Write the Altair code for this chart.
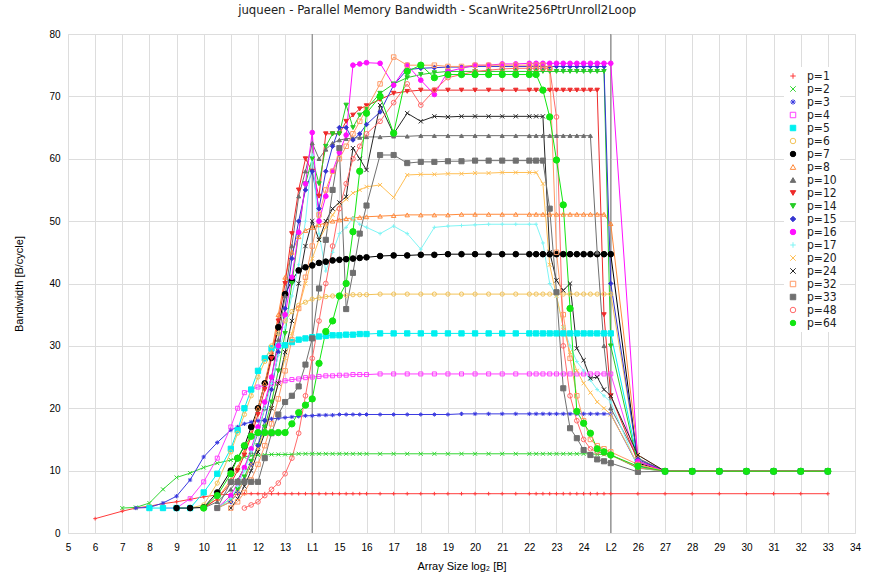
import altair as alt
import pandas as pd

N = None
FONT = "Liberation Sans Narrow, DejaVu Sans Condensed, Liberation Sans, sans-serif"

XA = [6, 7, 7.5, 8, 8.5, 9, 9.5, 10, 10.5, 11]
XB = [11.25, 11.5, 11.75, 12, 12.25, 12.5, 12.75, 13, 13.25, 13.5, 13.75, 14, 14.25, 14.5, 14.75, 15, 15.25, 15.5, 15.75, 16]
XC = [16.5, 17, 17.5, 18, 18.5, 19, 19.5, 20, 20.5, 21, 21.5, 22]
XD = [22.25, 22.5, 22.75, 23, 23.25, 23.5, 23.75, 24, 24.25, 24.5, 24.75, 25]
XE = [26, 27, 28, 29, 30, 31, 32, 33]
X = XA + XB + XC + XD + XE

p1 = ([2.3, 3.5, 4.0, 4.3, 4.7, 5.0, 5.4, 5.8, 6.1, 6.2]
      + [6.2, 6.3, 6.3, 6.3, 6.3, 6.3, 6.3, 6.3, 6.3, 6.3, 6.3, 6.3, 6.3, 6.3, 6.3, 6.3, 6.3, 6.3, 6.3, 6.3]
      + [6.3, 6.3, 6.3, 6.3, 6.3, 6.3, 6.3, 6.3, 6.3, 6.3, 6.3, 6.3]
      + [6.3, 6.3, 6.3, 6.3, 6.3, 6.3, 6.3, 6.3, 6.3, 6.3, 6.3, 6.3]
      + [6.3, 6.3, 6.3, 6.3, 6.3, 6.3, 6.3, 6.3])
p2 = ([N, 4.0, 4.1, 4.8, 7.0, 8.9, 9.6, 10.5, 11.2, 11.7]
      + [12.0, 12.2, 12.4, 12.5, 12.5, 12.6, 12.6, 12.6, 12.6, 12.7, 12.7, 12.7, 12.7, 12.7, 12.7, 12.7, 12.7, 12.7, 12.7, 12.7]
      + [12.7, 12.7, 12.7, 12.7, 12.7, 12.7, 12.7, 12.7, 12.7, 12.7, 12.7, 12.7]
      + [12.7, 12.7, 12.7, 12.7, 12.7, 12.7, 12.7, 12.7, 12.7, 12.6, 12.6, 12.5]
      + [10.4, 9.9, 9.9, 9.9, 9.9, 9.9, 9.9, 9.9])
p3 = ([N, N, 4.0, 4.1, 4.8, 5.9, 8.5, 12.2, 14.5, 16.5]
      + [17.0, 17.5, 17.8, 18.0, 18.1, 18.3, 18.4, 18.5, 18.6, 18.7, 18.8, 18.8, 18.9, 18.9, 18.9, 19.0, 19.0, 19.0, 19.0, 19.0]
      + [19.0, 19.0, 19.0, 19.0, 19.0, 19.0, 19.1, 19.1, 19.1, 19.1, 19.1, 19.1]
      + [19.1, 19.1, 19.1, 19.1, 19.1, 19.1, 19.1, 19.1, 19.1, 19.1, 19.1, 19.1]
      + [10.8, 9.9, 9.9, 9.9, 9.9, 9.9, 9.9, 9.9])
p4 = ([N, N, N, N, 4.0, 4.0, 5.5, 8.2, 12.0, 17.0]
      + [20.0, 22.5, 23.0, 23.4, 23.7, 24.0, 24.2, 24.4, 24.6, 24.7, 24.9, 25.0, 25.1, 25.2, 25.2, 25.3, 25.3, 25.4, 25.4, 25.4]
      + [25.5, 25.5, 25.5, 25.5, 25.5, 25.5, 25.5, 25.5, 25.5, 25.5, 25.5, 25.5]
      + [25.5, 25.5, 25.5, 25.5, 25.5, 25.5, 25.5, 25.5, 25.5, 25.5, 25.5, 25.5]
      + [11.0, 9.9, 9.9, 9.9, 9.9, 9.9, 9.9, 9.9])
p5 = ([N, N, N, 4.0, 4.0, 4.0, 4.0, 6.5, 9.5, 13.5]
      + [16.5, 20.0, 23.0, 26.0, 28.0, 29.6, 30.0, 30.1, 30.6, 31.0, 31.2, 31.4, 31.5, 31.6, 31.7, 31.7, 31.8, 31.8, 31.9, 31.9]
      + [32.0, 32.0, 32.0, 32.0, 32.0, 32.0, 32.0, 32.0, 32.0, 32.0, 32.0, 32.0]
      + [32.0, 32.0, 32.0, 32.0, 32.0, 32.0, 32.0, 32.0, 32.0, 32.0, 32.0, 32.0]
      + [11.5, 9.9, 9.9, 9.9, 9.9, 9.9, 9.9, 9.9])
p6 = ([N, N, N, N, N, N, 4.0, 4.5, 8.0, 13.0]
      + [16.0, 19.0, 22.0, 25.0, 27.5, 30.0, 32.0, 34.0, 35.5, 36.5, 37.0, 37.5, 37.7, 37.9, 38.0, 38.1, 38.1, 38.2, 38.2, 38.2]
      + [38.3, 38.3, 38.3, 38.3, 38.3, 38.3, 38.3, 38.3, 38.3, 38.3, 38.3, 38.3]
      + [38.3, 38.3, 38.3, 38.3, 38.3, 38.3, 38.3, 38.3, 38.3, 38.3, 38.3, 38.3]
      + [11.8, 9.9, 9.9, 9.9, 9.9, 9.9, 9.9, 9.9])
p7 = ([N, N, N, N, N, 4.0, 4.0, 4.1, 6.5, 10.0]
      + [12.0, 13.9, 17.0, 20.0, 24.0, 28.1, 33.0, 38.3, 40.5, 42.1, 42.6, 42.9, 43.3, 43.5, 43.7, 43.8, 43.9, 44.0, 44.1, 44.2]
      + [44.4, 44.5, 44.5, 44.6, 44.6, 44.7, 44.7, 44.7, 44.7, 44.7, 44.7, 44.7]
      + [44.7, 44.7, 44.7, 44.7, 44.7, 44.7, 44.7, 44.7, 44.7, 44.7, 44.7, 44.7]
      + [11.2, 9.9, 9.9, 9.9, 9.9, 9.9, 9.9, 9.9])
p8 = ([N, N, N, N, N, N, N, 4.0, 5.5, 8.5]
      + [10.5, 13.0, 16.0, 20.0, 24.0, 29.0, 35.0, 41.0, 45.0, 47.5, 48.5, 49.0, 49.4, 49.7, 50.0, 50.2, 50.4, 50.5, 50.6, 50.7]
      + [50.8, 50.9, 51.0, 51.0, 51.0, 51.0, 51.1, 51.1, 51.1, 51.1, 51.1, 51.1]
      + [51.1, 51.1, 51.1, 51.1, 51.1, 51.1, 51.1, 51.1, 51.1, 51.1, 51.1, 49.6]
      + [12.5, 9.9, 9.9, 9.9, 9.9, 9.9, 9.9, 9.9])
p10 = ([N, N, N, N, N, N, N, 4.0, 5.0, 7.0]
       + [8.5, 10.5, 13.0, 16.0, 20.0, 25.0, 31.0, 38.0, 46.0, 54.0, 58.0, 62.5, 60.0, 61.5, 62.5, 63.0, 63.2, 63.3, 63.4, 63.5]
       + [63.5, 63.6, 63.6, 63.7, 63.7, 63.7, 63.7, 63.7, 63.7, 63.7, 63.7, 63.7]
       + [63.7, 63.7, 63.7, 63.7, 63.7, 63.7, 63.7, 63.7, 63.7, 45.0, 30.0, 20.0]
       + [12.0, 9.9, 9.9, 9.9, 9.9, 9.9, 9.9, 9.9])
p12 = ([N, N, N, N, N, N, N, 4.0, 5.5, 8.0]
       + [10.0, 12.5, 15.5, 19.0, 23.0, 28.0, 34.0, 40.0, 48.0, 55.0, 60.0, 58.0, 54.0, 64.0, 64.0, 64.0, 66.0, 67.0, 68.0, 68.5]
       + [69.5, 70.5, 70.8, 71.0, 71.0, 71.0, 71.0, 71.0, 71.0, 71.0, 71.0, 71.0]
       + [71.0, 71.0, 71.0, 71.0, 71.0, 71.0, 71.0, 71.0, 71.0, 71.0, 35.0, 22.0]
       + [11.5, 9.9, 9.9, 9.9, 9.9, 9.9, 9.9, 9.9])
p14 = ([N, N, N, N, N, N, N, N, 4.0, 5.5]
       + [7.0, 9.0, 11.5, 14.0, 17.0, 21.0, 26.0, 32.0, 40.0, 48.0, 56.0, 60.0, 56.0, 62.0, 64.0, 64.0, 68.6, 65.0, 67.0, 68.0]
       + [70.5, 72.0, 73.0, 73.5, 73.8, 74.0, 74.0, 74.0, 74.0, 74.0, 74.0, 74.0]
       + [74.0, 74.0, 74.0, 74.0, 74.0, 74.0, 74.0, 74.0, 74.0, 74.0, 74.0, 30.0]
       + [11.0, 9.9, 9.9, 9.9, 9.9, 9.9, 9.9, 9.9])
p15 = ([N, N, N, N, N, N, N, N, 4.0, 5.0]
       + [6.5, 8.5, 11.0, 14.0, 18.0, 23.0, 29.0, 36.0, 44.0, 50.0, 55.0, 58.0, 52.0, 58.0, 62.0, 65.0, 65.0, 63.0, 64.0, 65.5]
       + [67.5, 71.8, 74.3, 74.5, 74.6, 74.7, 74.7, 74.8, 74.8, 74.8, 74.8, 74.8]
       + [74.8, 74.8, 74.8, 74.8, 74.8, 74.8, 74.8, 74.8, 74.8, 74.8, 74.8, 40.0]
       + [11.8, 9.9, 9.9, 9.9, 9.9, 9.9, 9.9, 9.9])
p16 = ([N, N, N, N, N, N, N, N, 4.0, 6.0]
       + [8.0, 10.5, 13.5, 17.0, 21.0, 25.0, 30.0, 35.0, 41.0, 48.2, 56.0, 64.2, 50.0, 54.0, 58.0, 61.0, 63.8, 75.0, 75.2, 75.4]
       + [75.3, 71.8, 75.0, 72.6, 70.3, 74.0, 74.5, 75.0, 75.0, 75.2, 75.2, 75.3]
       + [75.3, 75.3, 75.3, 75.3, 75.3, 75.3, 75.3, 75.3, 75.3, 75.3, 75.3, 75.3]
       + [11.5, 9.9, 9.9, 9.9, 9.9, 9.9, 9.9, 9.9])
p17 = ([N, N, N, N, N, N, N, N, 4.0, 5.5]
       + [7.5, 10.0, 13.0, 16.5, 20.0, 24.0, 28.5, 33.0, 38.0, 43.0, 50.0, 60.6, 48.0, 42.0, 45.0, 48.0, 49.0, 50.5, 49.5, 49.0]
       + [48.0, 49.2, 48.0, 45.5, 49.0, 49.2, 49.3, 49.4, 49.5, 49.5, 49.5, 49.5]
       + [49.5, 46.5, 40.0, 38.0, 33.0, 30.0, 27.5, 26.0, 24.5, 23.0, 22.0, 21.0]
       + [10.5, 9.9, 9.9, 9.9, 9.9, 9.9, 9.9, 9.9])
p20 = ([N, N, N, N, N, N, N, N, 4.0, 5.0]
       + [6.5, 8.5, 11.0, 13.5, 16.5, 20.0, 24.0, 28.0, 32.0, 36.0, 40.0, 44.0, 47.0, 49.0, 51.0, 52.5, 53.5, 54.5, 55.0, 55.5]
       + [55.8, 53.8, 57.4, 57.5, 57.5, 57.6, 57.6, 57.7, 57.7, 57.8, 57.8, 57.8]
       + [57.8, 56.0, 43.0, 38.0, 33.0, 29.0, 26.0, 24.0, 22.5, 21.0, 20.0, 19.0]
       + [11.0, 9.9, 9.9, 9.9, 9.9, 9.9, 9.9, 9.9])
p24 = ([N, N, N, N, N, N, N, N, N, 4.0]
       + [5.5, 7.5, 10.0, 13.0, 16.0, 20.0, 24.0, 29.0, 34.0, 40.0, 46.0, 50.0, 47.0, 50.0, 52.0, 53.0, 53.9, 61.7, 60.0, 58.2]
       + [68.6, 64.0, 67.3, 66.0, 66.8, 66.7, 66.8, 66.8, 66.8, 66.8, 66.8, 66.8]
       + [66.8, 66.8, 45.0, 40.5, 38.9, 40.0, 29.6, 27.7, 24.8, 25.0, 23.0, 22.0]
       + [12.5, 9.9, 9.9, 9.9, 9.9, 9.9, 9.9, 9.9])
p32 = ([N, N, N, N, N, N, N, N, N, 4.0]
       + [5.0, 6.5, 8.5, 11.0, 14.0, 17.5, 21.5, 26.0, 31.0, 36.0, 41.0, 46.0, 51.0, 55.0, 58.0, 60.0, 62.0, 64.0, 66.0, 68.0]
       + [72.0, 76.3, 75.0, 75.0, 75.0, 74.8, 74.8, 75.0, 75.0, 75.0, 75.0, 75.0]
       + [75.0, 75.0, 74.5, 45.0, 35.0, 28.0, 22.0, 18.0, 15.0, 14.0, 13.5, 13.0]
       + [11.0, 9.9, 9.9, 9.9, 9.9, 9.9, 9.9, 9.9])
p33 = ([N, N, N, N, N, N, N, N, 4.0, 8.2]
       + [8.2, 8.2, 8.2, 8.2, 12.0, 16.0, 19.0, 21.0, 22.0, 23.5, 27.0, 31.2, 39.2, 47.0, 55.0, 61.7, 35.9, 41.7, 48.0, 52.5]
       + [60.6, 60.6, 59.3, 59.5, 59.5, 59.6, 59.6, 59.7, 59.7, 59.7, 59.7, 59.7]
       + [59.7, 59.7, 52.0, 38.6, 23.2, 16.8, 15.2, 13.3, 12.5, 11.8, 11.5, 11.2]
       + [9.8, 9.9, 9.9, 9.9, 9.9, 9.9, 9.9, 9.9])
p48 = ([N, N, N, N, N, N, N, N, N, N]
       + [N, 4.0, 4.5, 5.0, 6.0, 7.0, 8.0, 9.5, 12.0, 16.0, 22.0, 28.0, 34.0, 40.0, 46.0, 52.0, 56.0, 60.0, 62.0, 64.0]
       + [66.0, 69.0, 72.0, 68.6, 71.0, 73.0, 73.5, 74.0, 74.2, 74.4, 74.5, 74.5]
       + [74.5, 74.5, 74.5, 66.7, 30.0, 22.0, 18.0, 15.0, 13.5, 13.0, 12.8, 12.5]
       + [10.5, 9.9, 9.9, 9.9, 9.9, 9.9, 9.9, 9.9])
p64 = ([N, N, N, N, N, N, N, 4.0, 6.0, 9.5]
       + [12.0, 14.0, 15.5, 16.1, 16.1, 16.1, 16.1, 16.1, 17.5, 19.3, 20.5, 21.5, 27.2, 32.3, 34.0, 38.0, 40.0, 48.3, 58.0, 67.3]
       + [70.0, 64.1, 74.0, 75.0, 73.0, 73.5, 73.5, 73.5, 73.5, 73.5, 73.5, 73.5]
       + [73.5, 71.0, 66.7, 59.8, 52.6, 36.0, 19.5, 17.6, 16.0, 13.5, 13.0, 12.5]
       + [10.7, 9.9, 9.9, 9.9, 9.9, 9.9, 9.9, 9.9])

labels = ["p=1", "p=2", "p=3", "p=4", "p=5", "p=6", "p=7", "p=8", "p=10", "p=12",
          "p=14", "p=15", "p=16", "p=17", "p=20", "p=24", "p=32", "p=33", "p=48", "p=64"]
series = [p1, p2, p3, p4, p5, p6, p7, p8, p10, p12, p14, p15, p16, p17, p20, p24, p32, p33, p48, p64]
colors = ["#ff3b3b", "#33d633", "#3a3ae0", "#ff40ff", "#00f0f0", "#f2c35a", "#000000", "#ff8a3c",
          "#6e6e6e", "#ee2a2a", "#26cc26", "#3434d0", "#ff10ff", "#7ff5f5", "#ffbf55", "#262626",
          "#ff9a66", "#707070", "#ff6a6a", "#12e612"]
PLUS = "M-1,0L1,0M0,-1L0,1"
XS = "M-1,-1L1,1M-1,1L1,-1"
STAR = "M-1,0L1,0M0,-1L0,1M-0.7,-0.7L0.7,0.7M-0.7,0.7L0.7,-0.7"
shapes = [PLUS, XS, STAR, "square", "square", "circle", "circle", "triangle-up",
          "triangle-up", "triangle-down", "triangle-down", "diamond", "circle", PLUS, XS, XS,
          "square", "square", "circle", "circle"]
filled = [False, False, False, False, True, False, True, False,
          True, True, True, True, True, False, False, False,
          False, True, False, True]
msizes = [14, 16, 18, 16, 28, 18, 32, 20, 16, 20, 20, 20, 22, 14, 16, 18, 20, 26, 22, 40]
fills = [c if f else "transparent" for c, f in zip(colors, filled)]

rows = []
for lab, vals, ms in zip(labels, series, msizes):
    for x, v in zip(X, vals):
        if v is not None:
            rows.append({"series": lab, "x": x, "y": v, "ms": ms})
df = pd.DataFrame(rows)

cache_x = [14, 25]
cache_df = pd.DataFrame({"x": cache_x})
x_ticks = list(range(5, 35))

xscale = alt.Scale(domain=[5, 34], nice=False, zero=False)
yscale = alt.Scale(domain=[0, 80], nice=False)
xaxis = alt.Axis(values=x_ticks, title="Array Size log\u2082 [B]",
                 labelExpr="datum.value == 14 ? 'L1' : (datum.value == 25 ? 'L2' : datum.value)",
                 grid=True, ticks=False, domain=False, labelPadding=9, titlePadding=8,
                 labelFlush=False, titleFontWeight="normal")
yaxis = alt.Axis(values=list(range(0, 81, 10)), title="Bandwidth [B/cycle]",
                 grid=True, ticks=False, domain=False, labelPadding=8, titlePadding=24,
                 titleFontWeight="normal")

cscale = alt.Scale(domain=labels, range=colors)
legend = alt.Legend(title=None, orient="none", legendX=716, legendY=33, labelFontSize=12,
                    labelFont=FONT, symbolStrokeWidth=1, rowPadding=1, symbolSize=30,
                    fillColor="white", padding=3, labelColor="#222", labelOffset=8)

base = alt.Chart(df)
lines = base.mark_line(strokeWidth=1, clip=True).encode(
    x=alt.X("x:Q", scale=xscale, axis=xaxis),
    y=alt.Y("y:Q", scale=yscale, axis=yaxis),
    color=alt.Color("series:N", scale=cscale, legend=legend, sort=labels),
    order="x:Q",
)
points = base.mark_point(strokeWidth=1, opacity=1, filled=False, clip=True).encode(
    x=alt.X("x:Q", scale=xscale, axis=xaxis),
    y=alt.Y("y:Q", scale=yscale, axis=yaxis),
    color=alt.Color("series:N", scale=cscale, legend=legend, sort=labels),
    shape=alt.Shape("series:N", scale=alt.Scale(domain=labels, range=shapes), legend=legend, sort=labels),
    fill=alt.Fill("series:N", scale=alt.Scale(domain=labels, range=fills), legend=legend, sort=labels),
    size=alt.Size("ms:Q", scale=None),
)
rules = alt.Chart(cache_df).mark_rule(color="#8a8a8a", strokeWidth=1.2).encode(
    x=alt.X("x:Q", scale=xscale, axis=xaxis)
)

chart = alt.layer(rules, lines, points).properties(
    width=787, height=499,
    autosize=alt.AutoSizeParams(type="none"),
    padding={"left": 68, "top": 34, "right": 22, "bottom": 47},
    title=alt.TitleParams("juqueen - Parallel Memory Bandwidth - ScanWrite256PtrUnroll2Loop",
                          fontSize=13, font=FONT, fontWeight="normal", color="#222",
                          anchor="middle", frame="bounds", offset=12),
).configure_view(stroke="#8a8a8a", strokeWidth=1).configure_axis(
    labelFont=FONT, titleFont=FONT, labelFontSize=13, titleFontSize=13,
    labelColor="#222", titleColor="#222", titleFontWeight="normal",
    gridColor="#c4c4c4", gridDash=[2, 3], gridWidth=1,
).configure(background="white")

chart.save("out.html", embed_options={"renderer": "svg", "actions": False})
